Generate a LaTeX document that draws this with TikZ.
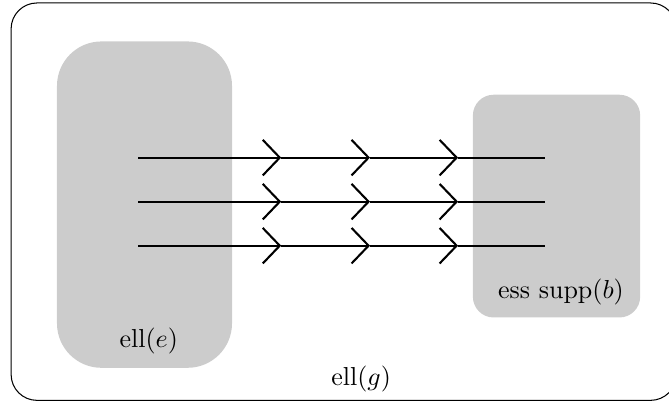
\documentclass[tikz,border=0pt]{standalone}
\usetikzlibrary{arrows.meta}
\begin{document}
\begin{tikzpicture}[
    region/.style={fill=black!20, draw=none},
    flow/.style={thick, -{Straight Barb[length=2.3mm, width=4.8mm]}},
    tail/.style={thick}]
  \useasboundingbox (0,0) rectangle (9.04,5.51);

  % ell(g)
  \draw[rounded corners=0.35cm] (0.15,0.1) rectangle (9.14,5.47);
  \node (lg) at (4.88,0.39) {ell$(g)$};

  % ell(e) and ess supp(b)
  \fill[region, rounded corners=0.6cm] (0.77,0.54) rectangle (3.135,4.95);
  \fill[region, rounded corners=0.28cm] (6.39,1.22) rectangle (8.65,4.23);
  \node (le) at (2.01,0.9) {ell$(e)$};
  \node (lb) at (7.58,1.56) {ess supp$(b)$};

  % Paths
  \coordinate (p10) at (1.865,3.38);
  \coordinate (p11) at (3.8,3.38);
  \coordinate (p12) at (5.0,3.38);
  \coordinate (p13) at (6.19,3.38);
  \coordinate (p14) at (7.365,3.38);

  \coordinate (p20) at (1.865,2.785);
  \coordinate (p21) at (3.8,2.785);
  \coordinate (p22) at (5.0,2.785);
  \coordinate (p23) at (6.19,2.785);
  \coordinate (p24) at (7.365,2.785);

  \coordinate (p30) at (1.865,2.19);
  \coordinate (p31) at (3.8,2.19);
  \coordinate (p32) at (5.0,2.19);
  \coordinate (p33) at (6.19,2.19);
  \coordinate (p34) at (7.365,2.19);

  \draw[flow] (p10) -- (p11);
  \draw[flow] (p11) -- (p12);
  \draw[flow] (p12) -- (p13);
  \draw[tail] (p13) -- (p14);

  \draw[flow] (p20) -- (p21);
  \draw[flow] (p21) -- (p22);
  \draw[flow] (p22) -- (p23);
  \draw[tail] (p23) -- (p24);

  \draw[flow] (p30) -- (p31);
  \draw[flow] (p31) -- (p32);
  \draw[flow] (p32) -- (p33);
  \draw[tail] (p33) -- (p34);
\end{tikzpicture}
\end{document}
